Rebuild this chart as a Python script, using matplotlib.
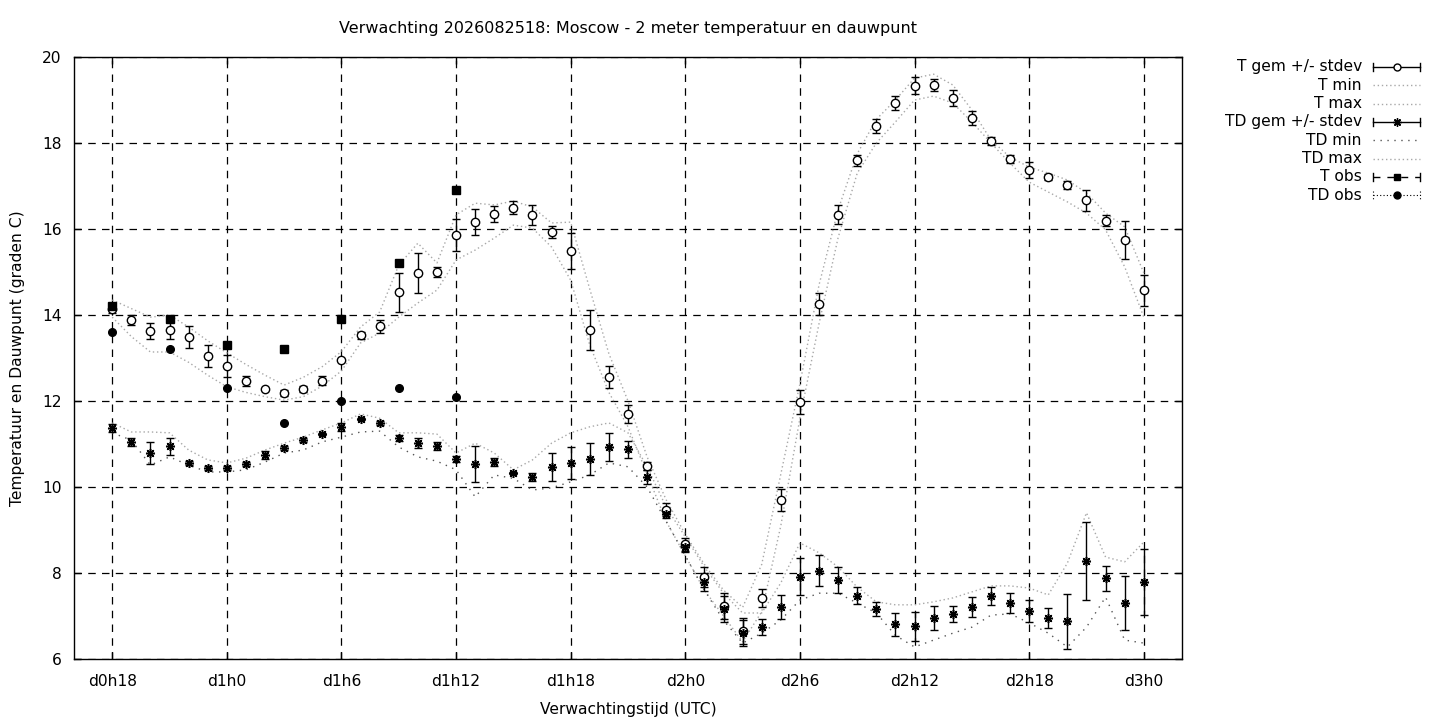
import matplotlib
matplotlib.use("Agg")
import matplotlib.pyplot as plt
import numpy as np

plt.rcParams['font.family'] = ['DejaVu Sans']

# ---------------- data ----------------
hours = list(range(18, 73))

t_mean = [14.15, 13.88, 13.63, 13.65, 13.49, 13.05, 12.81,
          12.47, 12.28, 12.19, 12.28, 12.47, 12.95,
          13.53, 13.74, 14.53, 14.98, 15.00, 15.86,
          16.16, 16.35, 16.49, 16.33, 15.93, 15.49,
          13.65, 12.56, 11.70, 10.49, 9.47, 8.67,
          7.91, 7.23, 6.65, 7.42, 9.70, 11.98,
          14.26, 16.33, 17.60, 18.40, 18.93, 19.33,
          19.35, 19.05, 18.58, 18.05, 17.63, 17.37,
          17.21, 17.02, 16.67, 16.19, 15.74, 14.58]
t_std = [0.10, 0.12, 0.18, 0.20, 0.25, 0.25, 0.25,
         0.12, 0.00, 0.07, 0.07, 0.10, 0.00,
         0.08, 0.15, 0.45, 0.47, 0.12, 0.37,
         0.30, 0.18, 0.15, 0.23, 0.15, 0.42,
         0.46, 0.26, 0.20, 0.10, 0.15, 0.15,
         0.23, 0.30, 0.30, 0.20, 0.25, 0.28,
         0.25, 0.22, 0.13, 0.16, 0.16, 0.20,
         0.14, 0.19, 0.16, 0.10, 0.10, 0.18,
         0.06, 0.10, 0.24, 0.13, 0.44, 0.36]
t_max = [14.35, 14.15, 13.95, 14.00, 13.72, 13.40, 13.12,
         12.85, 12.60, 12.37, 12.55, 12.80, 13.15,
         13.72, 14.07, 15.16, 15.67, 15.21, 16.33,
         16.60, 16.56, 16.65, 16.51, 16.14, 16.16,
         14.60, 13.10, 12.00, 10.70, 9.70, 8.90,
         8.20, 7.60, 7.20, 8.20, 10.30, 12.40,
         14.70, 16.45, 17.75, 18.55, 19.00, 19.51,
         19.60, 19.35, 18.77, 18.07, 17.67, 17.44,
         17.30, 17.14, 16.84, 16.37, 16.05, 14.98]
t_min = [13.95, 13.50, 13.14, 13.14, 12.90, 12.60, 12.33,
         12.20, 12.10, 12.02, 12.10, 12.35, 12.70,
         13.35, 13.58, 13.95, 14.28, 14.58, 15.28,
         15.51, 15.79, 16.09, 16.02, 15.58, 14.81,
         13.30, 12.20, 11.40, 10.30, 9.20, 8.40,
         7.60, 7.00, 6.40, 7.10, 9.10, 11.60,
         13.80, 15.80, 17.30, 18.00, 18.49, 19.00,
         19.09, 18.93, 18.49, 18.00, 17.53, 17.09,
         16.86, 16.63, 16.37, 15.98, 15.12, 13.95]

td_mean = [11.37, 11.05, 10.79, 10.95, 10.56, 10.44, 10.44,
           10.53, 10.74, 10.91, 11.09, 11.23, 11.40,
           11.58, 11.49, 11.14, 11.02, 10.95, 10.65,
           10.53, 10.58, 10.33, 10.23, 10.47, 10.56,
           10.65, 10.93, 10.88, 10.23, 9.37, 8.60,
           7.79, 7.16, 6.60, 6.74, 7.21, 7.91,
           8.05, 7.84, 7.47, 7.16, 6.81, 6.76,
           6.95, 7.04, 7.21, 7.47, 7.30, 7.12,
           6.95, 6.88, 8.28, 7.88, 7.30, 7.79]
td_std = [0.10, 0.10, 0.25, 0.20, 0.05, 0.04, 0.05,
          0.05, 0.10, 0.05, 0.05, 0.03, 0.10,
          0.03, 0.05, 0.08, 0.12, 0.10, 0.08,
          0.42, 0.10, 0.03, 0.10, 0.32, 0.38,
          0.37, 0.33, 0.20, 0.16, 0.10, 0.10,
          0.20, 0.30, 0.30, 0.18, 0.28, 0.43,
          0.36, 0.30, 0.20, 0.17, 0.27, 0.33,
          0.28, 0.19, 0.23, 0.21, 0.23, 0.25,
          0.23, 0.64, 0.90, 0.29, 0.62, 0.77]
td_max = [11.49, 11.28, 11.28, 11.26, 10.86, 10.63, 10.56,
          10.67, 10.86, 11.02, 11.16, 11.33, 11.49,
          11.70, 11.60, 11.26, 11.26, 11.23, 10.79,
          11.02, 10.79, 10.40, 10.63, 11.02, 11.26,
          11.40, 11.49, 11.26, 10.47, 9.53, 8.84,
          8.14, 7.53, 7.07, 7.07, 7.77, 8.70,
          8.47, 8.14, 7.67, 7.33, 7.26, 7.26,
          7.33, 7.42, 7.56, 7.70, 7.70, 7.65,
          7.49, 8.23, 9.40, 8.37, 8.26, 8.72]
td_min = [11.26, 11.09, 10.51, 10.70, 10.51, 10.35, 10.35,
          10.40, 10.58, 10.79, 10.86, 11.05, 11.16,
          11.28, 11.30, 10.93, 10.70, 10.60, 10.40,
          9.77, 10.28, 10.20, 9.93, 9.98, 10.12,
          10.28, 10.56, 10.47, 10.00, 9.20, 8.40,
          7.60, 6.90, 6.37, 6.60, 6.91, 7.37,
          7.53, 7.53, 7.30, 7.07, 6.55, 6.28,
          6.44, 6.60, 6.74, 7.02, 7.05, 6.84,
          6.60, 6.28, 6.74, 7.44, 6.44, 6.37]

obs_hours = [18, 21, 24, 27, 30, 33, 36]
t_obs = [14.2, 13.9, 13.3, 13.2, 13.9, 15.2, 16.9]
td_obs = [13.6, 13.2, 12.3, 11.5, 12.0, 12.3, 12.1]

xtick_pos = [18, 24, 30, 36, 42, 48, 54, 60, 66, 72]
xtick_labels = ["d0h18", "d1h0", "d1h6", "d1h12", "d1h18",
                "d2h0", "d2h6", "d2h12", "d2h18", "d3h0"]
ytick_pos = [6, 8, 10, 12, 14, 16, 18, 20]

title = "Verwachting 2026082518: Moscow - 2 meter temperatuur en dauwpunt"
legend_labels = ["T gem +/- stdev", "T min", "T max", "TD gem +/- stdev",
                 "TD min", "TD max", "T obs", "TD obs"]

# ---------------- figure ----------------
W, H = 1440, 720
fig = plt.figure(figsize=(W / 100, H / 100), dpi=100)
ax = fig.add_axes([74 / W, 1 - 659 / H, (1182 - 74) / W, (659 - 57) / H])

FS = 11.2
grey = '#a8a8a8'
T_LS = (0, (1, 2))
TDMIN_LS = (0, (1, 4))

ax.plot(hours, t_min, color=grey, lw=1.0, ls=T_LS, zorder=2)
ax.plot(hours, t_max, color=grey, lw=1.0, ls=T_LS, zorder=2)
ax.plot(hours, td_min, color='#555555', lw=1.0, ls=TDMIN_LS, zorder=2)
ax.plot(hours, td_max, color=grey, lw=1.0, ls=T_LS, zorder=2)

ax.errorbar(hours, t_mean, yerr=t_std, fmt='o', color='black', ms=6,
            mfc='white', mec='black', mew=1.0, elinewidth=1.0,
            capsize=3, capthick=1.0, zorder=4)
ax.errorbar(hours, td_mean, yerr=td_std, fmt='none', ecolor='black',
            elinewidth=1.0, capsize=3, capthick=1.0, zorder=4)
ax.plot(hours, td_mean, ls='none', marker=(8, 2, 0), ms=6.5, color='black',
        mew=1.1, zorder=5)

ax.plot(obs_hours, t_obs, ls='none', marker='s', ms=5.5, color='black', zorder=5)
ax.plot(obs_hours, td_obs, ls='none', marker='o', ms=5.5, color='black', zorder=5)

ax.set_xlim(16, 74)
ax.set_ylim(6, 20)
ax.set_xticks(xtick_pos)
ax.set_xticklabels(xtick_labels, fontsize=FS)
ax.set_yticks(ytick_pos)
ax.set_yticklabels([str(v) for v in ytick_pos], fontsize=FS)
ax.tick_params(direction='in', length=5, width=1, top=True, right=True)
ax.tick_params(axis='x', pad=11)
ax.tick_params(axis='y', pad=9)
ax.grid(True, color='black', lw=0.9, ls=(0, (6, 5)))
ax.set_axisbelow(True)
for s in ax.spines.values():
    s.set_linewidth(1.0)

ax.set_xlabel("Verwachtingstijd (UTC)", fontsize=FS, labelpad=9)
ax.set_ylabel("Temperatuur en Dauwpunt (graden C)", fontsize=FS, labelpad=12)
fig.text((74 + 1182) / 2 / W, 1 - 29 / H, title, ha='center', va='center',
         fontsize=11.5)

# ---------------- legend (pixel coordinates overlay) ----------------
lax = fig.add_axes([0, 0, 1, 1], facecolor='none')
lax.set_xlim(0, W)
lax.set_ylim(H, 0)
lax.axis('off')

x0, x1 = 1373, 1420
xm = (x0 + x1) / 2
ytop, dy = 67, 18.3
for i, lab in enumerate(legend_labels):
    y = ytop + i * dy
    lax.text(1362, y, lab, ha='right', va='center', fontsize=FS)
    if i in (0, 3):
        lax.plot([x0, x1], [y, y], color='black', lw=1.0)
        lax.plot([x0, x0], [y - 4, y + 4], color='black', lw=1.0)
        lax.plot([x1, x1], [y - 4, y + 4], color='black', lw=1.0)
        if i == 0:
            lax.plot([xm], [y], marker='o', ms=5, mfc='white', mec='black',
                     mew=1.0)
        else:
            lax.plot([xm], [y], marker=(8, 2, 0), ms=6, color='black', mew=1.0)
    elif i in (1, 2, 5):
        lax.plot([x0, x1], [y, y], color=grey, lw=1.0, ls=T_LS)
    elif i == 4:
        lax.plot([x0, x1], [y, y], color='#555555', lw=1.0, ls=TDMIN_LS)
    elif i == 6:
        lax.plot([x0, x1], [y, y], color='black', lw=1.0, ls=(0, (5, 5)))
        lax.plot([x0, x0], [y - 4, y + 4], color='black', lw=1.0)
        lax.plot([x1, x1], [y - 4, y + 4], color='black', lw=1.0)
        lax.plot([xm], [y], marker='s', ms=5, color='black')
    else:
        lax.plot([x0, x1], [y, y], color='black', lw=0.8, ls=(0, (1, 2)))
        lax.plot([x0, x0], [y - 4, y + 4], color='black', lw=0.8, ls=(0, (1, 2)))
        lax.plot([x1, x1], [y - 4, y + 4], color='black', lw=0.8, ls=(0, (1, 2)))
        lax.plot([xm], [y], marker='o', ms=5, color='black')

fig.savefig("out.png", dpi=100)
